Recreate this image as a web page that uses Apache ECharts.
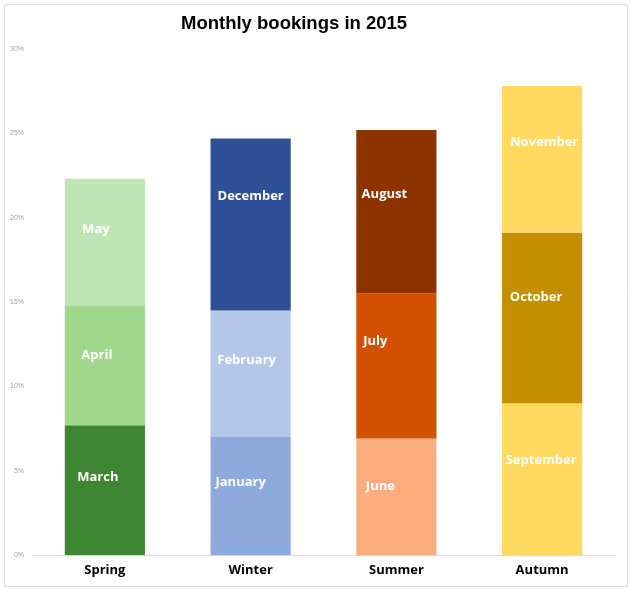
<!DOCTYPE html>
<html><head><meta charset="utf-8">
<script src="https://cdn.jsdelivr.net/npm/echarts@6/dist/echarts.min.js"></script>
<style>html,body{margin:0;padding:0;background:#fff}#c{width:633px;height:591px}</style>
</head><body><div id="c"></div>
<script>
const seasons = ['Spring', 'Winter', 'Summer', 'Autumn'];
const bottomMonths = ['March', 'January', 'June', 'September'];
const middleMonths = ['April', 'February', 'July', 'October'];
const topMonths = ['May', 'December', 'August', 'November'];
const bottomValues = [7.7, 7.0, 6.9, 9.0];
const middleValues = [7.1, 7.5, 8.6, 10.1];
const topValues = [7.5, 10.2, 9.7, 8.7];
const yTicks = [0, 5, 10, 15, 20, 25, 30];

const bottomColors = ['#3f8634', '#8eaadc', '#fbad7e', '#ffd960'];
const middleColors = ['#9fd88c', '#b4c7e7', '#d35000', '#c49000'];
const topColors = ['#c0e5b5', '#2f5097', '#8d3300', '#ffd960'];
const bottomNudge = [[-7, -13], [-10, -14], [-16, -11], [-1, -19]];
const middleNudge = [[-8, -10], [-4, -13], [-21, -25], [-6, -21]];
const topNudge = [[-9, -13], [0, -28], [-12, -17], [2, -17]];

function layer(name, values, months, colors, nudge) {
  return {
    name: name, type: 'bar', stack: 'total', barWidth: '55%',
    data: values.map((v, i) => ({
      value: v,
      itemStyle: { color: colors[i] },
      label: { formatter: months[i], offset: nudge[i] }
    })),
    label: {
      show: true, position: 'inside', color: '#fff', fontWeight: 'bold',
      fontFamily: 'Open Sans', fontSize: 13
    }
  };
}

const chart = echarts.init(document.getElementById('c'));
chart.setOption({
  animation: false,
  title: {
    text: 'Monthly bookings in 2015', left: 176, top: 9,
    textStyle: { fontFamily: 'Liberation Sans', fontWeight: 'bold', fontSize: 18.5, color: '#000' }
  },
  graphic: [{
    type: 'rect', shape: { x: 4.5, y: 4.5, width: 623, height: 582 },
    style: { fill: 'none', stroke: '#d9d9d9', lineWidth: 1 }, silent: true, z: -1
  }],
  grid: { left: 32, right: 18, top: 49, bottom: 36 },
  xAxis: {
    type: 'category', data: seasons,
    axisLine: { lineStyle: { color: '#d9d9d9' } },
    axisTick: { show: false },
    axisLabel: { color: '#000', fontWeight: 'bold', fontFamily: 'Open Sans', fontSize: 13, margin: 9 }
  },
  yAxis: {
    type: 'value', min: yTicks[0], max: yTicks[yTicks.length - 1], interval: 5,
    splitLine: { show: false }, axisLine: { show: false }, axisTick: { show: false },
    axisLabel: { formatter: '{value}%', color: '#a0a0a0', fontSize: 7, fontFamily: 'Liberation Sans', margin: 8 }
  },
  series: [
    layer('bottom', bottomValues, bottomMonths, bottomColors, bottomNudge),
    layer('middle', middleValues, middleMonths, middleColors, middleNudge),
    layer('top', topValues, topMonths, topColors, topNudge)
  ]
});
</script></body></html>
